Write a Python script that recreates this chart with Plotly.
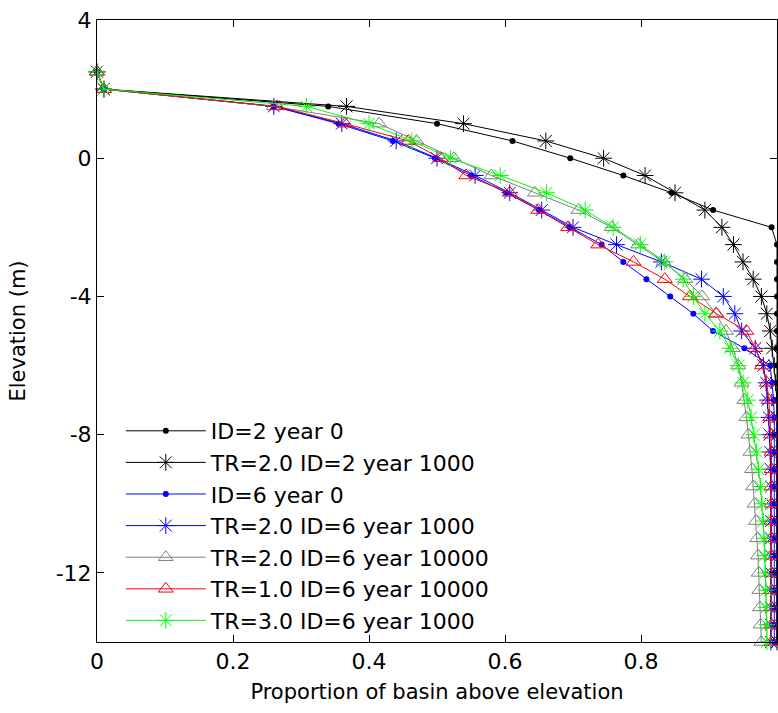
import plotly.graph_objects as go

elevation = [2.5, 2.0, 1.5, 1.0, 0.5, 0.0, -0.5, -1.0, -1.5, -2.0,
             -2.5, -3.0, -3.5, -4.0, -4.5, -5.0, -5.5, -6.0, -6.5, -7.0,
             -7.5, -8.0, -8.5, -9.0, -9.5, -10.0, -10.5, -11.0, -11.5, -12.0,
             -12.5, -13.0, -13.5, -14.0]

id2_year0 = [0.0, 0.01, 0.34, 0.50, 0.611, 0.696, 0.774, 0.845, 0.906, 0.992,
             1.0, 1.0, 1.0, 1.0, 1.0, 1.0, 1.0, 1.0, 1.0, 1.0,
             1.0, 1.0, 1.0, 1.0, 1.0, 1.0, 1.0, 1.0, 1.0, 1.0,
             1.0, 1.0, 1.0, 1.0]

tr2_id2_y1000 = [0.0, 0.01, 0.367, 0.539, 0.66, 0.745, 0.806, 0.85, 0.894, 0.919,
                 0.936, 0.95, 0.965, 0.977, 0.985, 0.99, 0.993, 0.996, 0.998, 1.0,
                 1.0, 1.0, 1.0, 1.0, 1.0, 1.0, 1.0, 1.0, 1.0, 1.0,
                 1.0, 1.0, 1.0, 1.0]

id6_year0 = [0.0, 0.01, 0.26, 0.355, 0.435, 0.497, 0.55, 0.602, 0.65, 0.695,
             0.742, 0.774, 0.808, 0.843, 0.877, 0.906, 0.952, 0.99, 0.993, 0.995,
             0.996, 0.996, 0.996, 0.996, 0.996, 0.996, 0.996, 0.996, 0.996, 0.996,
             0.996, 0.996, 0.996, 0.996]

tr2_id6_y1000 = [0.0, 0.01, 0.26, 0.36, 0.44, 0.50, 0.556, 0.607, 0.654, 0.70,
                 0.764, 0.83, 0.889, 0.921, 0.938, 0.948, 0.968, 0.98, 0.984, 0.986,
                 0.988, 0.989, 0.99, 0.991, 0.991, 0.991, 0.991, 0.991, 0.991, 0.991,
                 0.991, 0.991, 0.991, 0.991]

tr2_id6_y10000 = [0.0, 0.01, 0.26, 0.415, 0.47, 0.525, 0.58, 0.644, 0.708, 0.757,
                  0.796, 0.833, 0.865, 0.89, 0.91, 0.925, 0.935, 0.943, 0.948, 0.952,
                  0.955, 0.958, 0.961, 0.963, 0.965, 0.967, 0.969, 0.971, 0.972, 0.973,
                  0.974, 0.975, 0.976, 0.977]

tr1_id6_y10000 = [0.0, 0.01, 0.265, 0.365, 0.458, 0.505, 0.543, 0.607, 0.649, 0.693,
                  0.737, 0.789, 0.835, 0.872, 0.911, 0.955, 0.968, 0.978, 0.985, 0.988,
                  0.99, 0.991, 0.992, 0.992, 0.992, 0.992, 0.992, 0.992, 0.992, 0.992,
                  0.992, 0.992, 0.992, 0.992]

tr3_id6_y1000 = [0.0, 0.01, 0.308, 0.40, 0.463, 0.52, 0.593, 0.661, 0.718, 0.759,
                 0.799, 0.835, 0.862, 0.877, 0.894, 0.916, 0.931, 0.943, 0.95, 0.957,
                 0.962, 0.966, 0.97, 0.973, 0.976, 0.978, 0.98, 0.981, 0.982, 0.983,
                 0.984, 0.984, 0.985, 0.985]

series_names = ["ID=2 year 0", "TR=2.0 ID=2 year 1000", "ID=6 year 0",
                "TR=2.0 ID=6 year 1000", "TR=2.0 ID=6 year 10000",
                "TR=1.0 ID=6 year 10000", "TR=3.0 ID=6 year 1000"]
series_values = [id2_year0, tr2_id2_y1000, id6_year0, tr2_id6_y1000,
                 tr2_id6_y10000, tr1_id6_y10000, tr3_id6_y1000]
series_colors = ["#000000", "#000000", "#0000ff", "#0000ff",
                 "#808080", "#ff0000", "#00ff00"]
series_symbols = ["circle", "asterisk-open", "circle", "asterisk-open",
                  "triangle-up-open", "triangle-up-open", "asterisk-open"]

x_ticks = [0, 0.2, 0.4, 0.6, 0.8, 1]
x_tick_labels = ["0", "0.2", "0.4", "0.6", "0.8", "1"]
y_ticks = [4, 0, -4, -8, -12]
y_tick_labels = ["4", "0", "-4", "-8", "-12"]

FONT = "DejaVu Sans, Liberation Sans, Arial, sans-serif"

fig = go.Figure()
for name, vals, col, sym in zip(series_names, series_values, series_colors, series_symbols):
    if sym == "circle":
        marker = dict(symbol="circle", size=6, color=col, line=dict(width=0))
    elif sym.startswith("asterisk"):
        marker = dict(symbol=sym, size=14, color=col, line=dict(width=1, color=col))
    else:
        marker = dict(symbol=sym, size=13, color=col, line=dict(width=1, color=col))
    fig.add_trace(go.Scatter(
        x=vals, y=elevation, mode="lines+markers", name=name,
        line=dict(color=col, width=1), marker=marker, cliponaxis=False,
    ))

axis_common = dict(
    showline=True, linecolor="black", linewidth=1, mirror="ticks",
    ticks="inside", ticklen=7, tickcolor="black", tickwidth=1,
    showgrid=False, zeroline=False,
    tickfont=dict(family=FONT, size=22, color="black"),
)

fig.update_layout(
    width=778, height=713,
    margin=dict(l=97, r=1, t=20, b=71),
    paper_bgcolor="white", plot_bgcolor="white",
    font=dict(family=FONT, size=22, color="black"),
    xaxis=dict(range=[0, 1], tickvals=x_ticks, ticktext=x_tick_labels,
               title=dict(text="Proportion of basin above elevation",
                          font=dict(family=FONT, size=21), standoff=10),
               **axis_common),
    yaxis=dict(range=[-14, 4], tickvals=y_ticks, ticktext=y_tick_labels,
               title=dict(text="Elevation (m)", font=dict(family=FONT, size=21),
                          standoff=24),
               **axis_common),
    legend=dict(x=0.035, y=0.0, xanchor="left", yanchor="bottom",
                bgcolor="rgba(255,255,255,0)", borderwidth=0,
                font=dict(family=FONT, size=22, color="black"),
                itemwidth=80, tracegroupgap=0),
    showlegend=True,
)

fig.write_html("out.html")
